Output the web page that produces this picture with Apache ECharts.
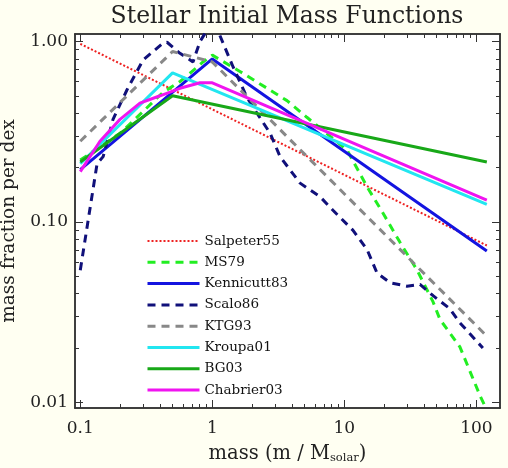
<!DOCTYPE html>
<html><head><meta charset="utf-8">
<script src="https://cdn.jsdelivr.net/npm/echarts@6/dist/echarts.min.js"></script>
<style>html,body{margin:0;padding:0;background:#FFFFF2;}#c{width:508px;height:468px;}</style>
</head><body><div id="c"></div>
<script>
// ---- data ----
const xMajor = [0.1, 1, 10, 100];
const yMajor = [0.01, 0.1, 1];
const seriesNames = ['Salpeter55','MS79','Kennicutt83','Scalo86','KTG93','Kroupa01','BG03','Chabrier03'];

const salpeterM = [0.1, 120];
const salpeterV = [0.97, 0.074];

const ms79M = [0.1, 0.2, 0.3, 0.42, 0.57, 0.70, 0.85, 1.0, 1.63, 3.68, 5.2, 10.5, 14.9, 19.6, 26.4, 35.6, 47, 53, 75, 107, 118];
const ms79V = [0.22, 0.31, 0.41, 0.52, 0.60, 0.68, 0.77, 0.84, 0.68, 0.47, 0.38, 0.25, 0.156, 0.112, 0.077, 0.054, 0.036, 0.0288, 0.0203, 0.0108, 0.0093];

const kennM = [0.1, 1, 120];
const kennV = [0.195, 0.80, 0.069];

const scaloM = [0.1, 0.134, 0.149, 0.177, 0.226, 0.299, 0.424, 0.454, 0.569, 0.714, 0.807, 0.91, 1.10, 1.44, 1.83, 2.18, 2.74, 3.26, 4.62, 6.54, 8.2, 11.6, 14.9, 17.7, 22.2, 29.8, 37.4, 47, 63, 75, 112];
const scaloV = [0.054, 0.21, 0.23, 0.37, 0.54, 0.79, 0.98, 0.99, 0.86, 0.77, 1.0, 1.15, 1.15, 0.72, 0.49, 0.40, 0.31, 0.23, 0.164, 0.138, 0.116, 0.090, 0.070, 0.052, 0.046, 0.044, 0.045, 0.039, 0.033, 0.0276, 0.020];

const ktgM = [0.1, 0.5, 1, 115];
const ktgV = [0.28, 0.88, 0.77, 0.024];

const kroupaM = [0.1, 0.5, 120];
const kroupaV = [0.21, 0.67, 0.125];

const bgM = [0.1, 0.5, 120];
const bgV = [0.215, 0.50, 0.215];

const chabM = [0.1, 0.141, 0.2, 0.283, 0.402, 0.569, 0.807, 1.0, 120];
const chabV = [0.19, 0.28, 0.37, 0.455, 0.50, 0.55, 0.59, 0.59, 0.132];

// ---- build ----
function pairs(m, v){ return m.map((x,i)=>[x, v[i]]); }
function minors(lo, hi){ const out=[]; for(let d=lo; d<hi; d++){ for(let k=2;k<=9;k++){ out.push(+(k*Math.pow(10,d)).toPrecision(6)); } } return out; }
const xMinor = minors(-2, 3);
const yMinor = minors(-3, 1);

const FONT = 'DejaVu Serif';
const XMIN = 0.0912, XMAX = 151, YMIN = 0.0093, YMAX = 1.1;

function xAx(pos, major, showLabel, showName){
  return {
    type:'log', gridIndex:0, min:XMIN, max:XMAX, position:pos,
    axisLine:{show:true, lineStyle:{color:'#333', width:1.5}},
    axisTick:{show:true, inside:true, length: major?8:4, lineStyle:{color:'#333', width:1}, customValues: major?xMajor:xMinor},
    minorTick:{show:false},
    splitLine:{show:false},
    axisLabel:{show:showLabel, customValues:xMajor, margin:12, color:'#222', fontFamily:FONT, fontSize:17,
      formatter:(v)=>{ const r=+(+v).toPrecision(3); return String(r);} },
    name: showName ? 'mass (m / M{sub|solar})' : '',
    nameLocation:'middle', nameGap:35,
    nameTextStyle:{color:'#222', fontFamily:FONT, fontSize:19.5,
      rich:{sub:{fontFamily:FONT, fontSize:11.5, color:'#222', padding:[9,0,0,0]}}}
  };
}
function yAx(pos, major, showLabel, showName){
  return {
    type:'log', gridIndex:0, min:YMIN, max:YMAX, position:pos,
    axisLine:{show:true, lineStyle:{color:'#333', width:1.5}},
    axisTick:{show:true, inside:true, length: major?8:4, lineStyle:{color:'#333', width:1}, customValues: major?yMajor:yMinor},
    minorTick:{show:false},
    splitLine:{show:false},
    axisLabel:{show:showLabel, customValues:yMajor, margin:7, color:'#222', fontFamily:FONT, fontSize:17,
      formatter:(v)=>(+v).toFixed(2)},
    name: showName ? 'mass fraction per dex' : '',
    nameLocation:'middle', nameGap:56, nameRotate:90,
    nameTextStyle:{color:'#222', fontFamily:FONT, fontSize:18.5}
  };
}

const styles = {
  'Salpeter55': {color:'#EE2222', width:2, type:[2,2]},
  'MS79':       {color:'#22EE22', width:3, type:[8,6]},
  'Kennicutt83':{color:'#1414E0', width:3, type:'solid'},
  'Scalo86':    {color:'#10107A', width:3, type:[8,6]},
  'KTG93':      {color:'#888888', width:3, type:[8,6]},
  'Kroupa01':   {color:'#22E6F0', width:3, type:'solid'},
  'BG03':       {color:'#18A818', width:3, type:'solid'},
  'Chabrier03': {color:'#F014F0', width:3, type:'solid'}
};
const dataMap = {
  'Salpeter55': pairs(salpeterM, salpeterV),
  'MS79': pairs(ms79M, ms79V),
  'Kennicutt83': pairs(kennM, kennV),
  'Scalo86': pairs(scaloM, scaloV),
  'KTG93': pairs(ktgM, ktgV),
  'Kroupa01': pairs(kroupaM, kroupaV),
  'BG03': pairs(bgM, bgV),
  'Chabrier03': pairs(chabM, chabV)
};
const series = seriesNames.map(n=>({
  name:n, type:'line', xAxisIndex:0, yAxisIndex:0, data:dataMap[n], symbol:'none', showSymbol:false,
  clip:true, animation:false, silent:true,
  lineStyle:{color:styles[n].color, width:styles[n].width, type:styles[n].type},
  itemStyle:{color:styles[n].color}
}));

const chart = echarts.init(document.getElementById('c'), null, {renderer:'canvas'});
chart.setOption({
  backgroundColor:'#FFFFF2',
  animation:false,
  title:{text:'Stellar Initial Mass Functions', left:282, top:0, textAlign:'center',
    textStyle:{fontFamily:FONT, fontSize:23.5, fontWeight:'normal', color:'#222'}},
  grid:{left:75, top:34, right:8, bottom:60, show:true, backgroundColor:'#ffffff', borderWidth:0,
    outerBoundsMode:'none', containLabel:false},
  xAxis:[xAx('bottom',true,true,true), xAx('bottom',false,false,false), xAx('top',true,false,false), xAx('top',false,false,false)],
  yAxis:[yAx('left',true,true,true), yAx('left',false,false,false), yAx('right',true,false,false), yAx('right',false,false,false)],
  legend:{orient:'vertical', left:141, top:229, itemWidth:52, itemHeight:14, itemGap:7.3,
    data:seriesNames.map(n=>({name:n, lineStyle:{width:styles[n].width}})),
    selectedMode:false, itemStyle:{opacity:0},
    textStyle:{fontFamily:FONT, fontSize:13.5, color:'#111'}},
  series:series
});
</script></body></html>
